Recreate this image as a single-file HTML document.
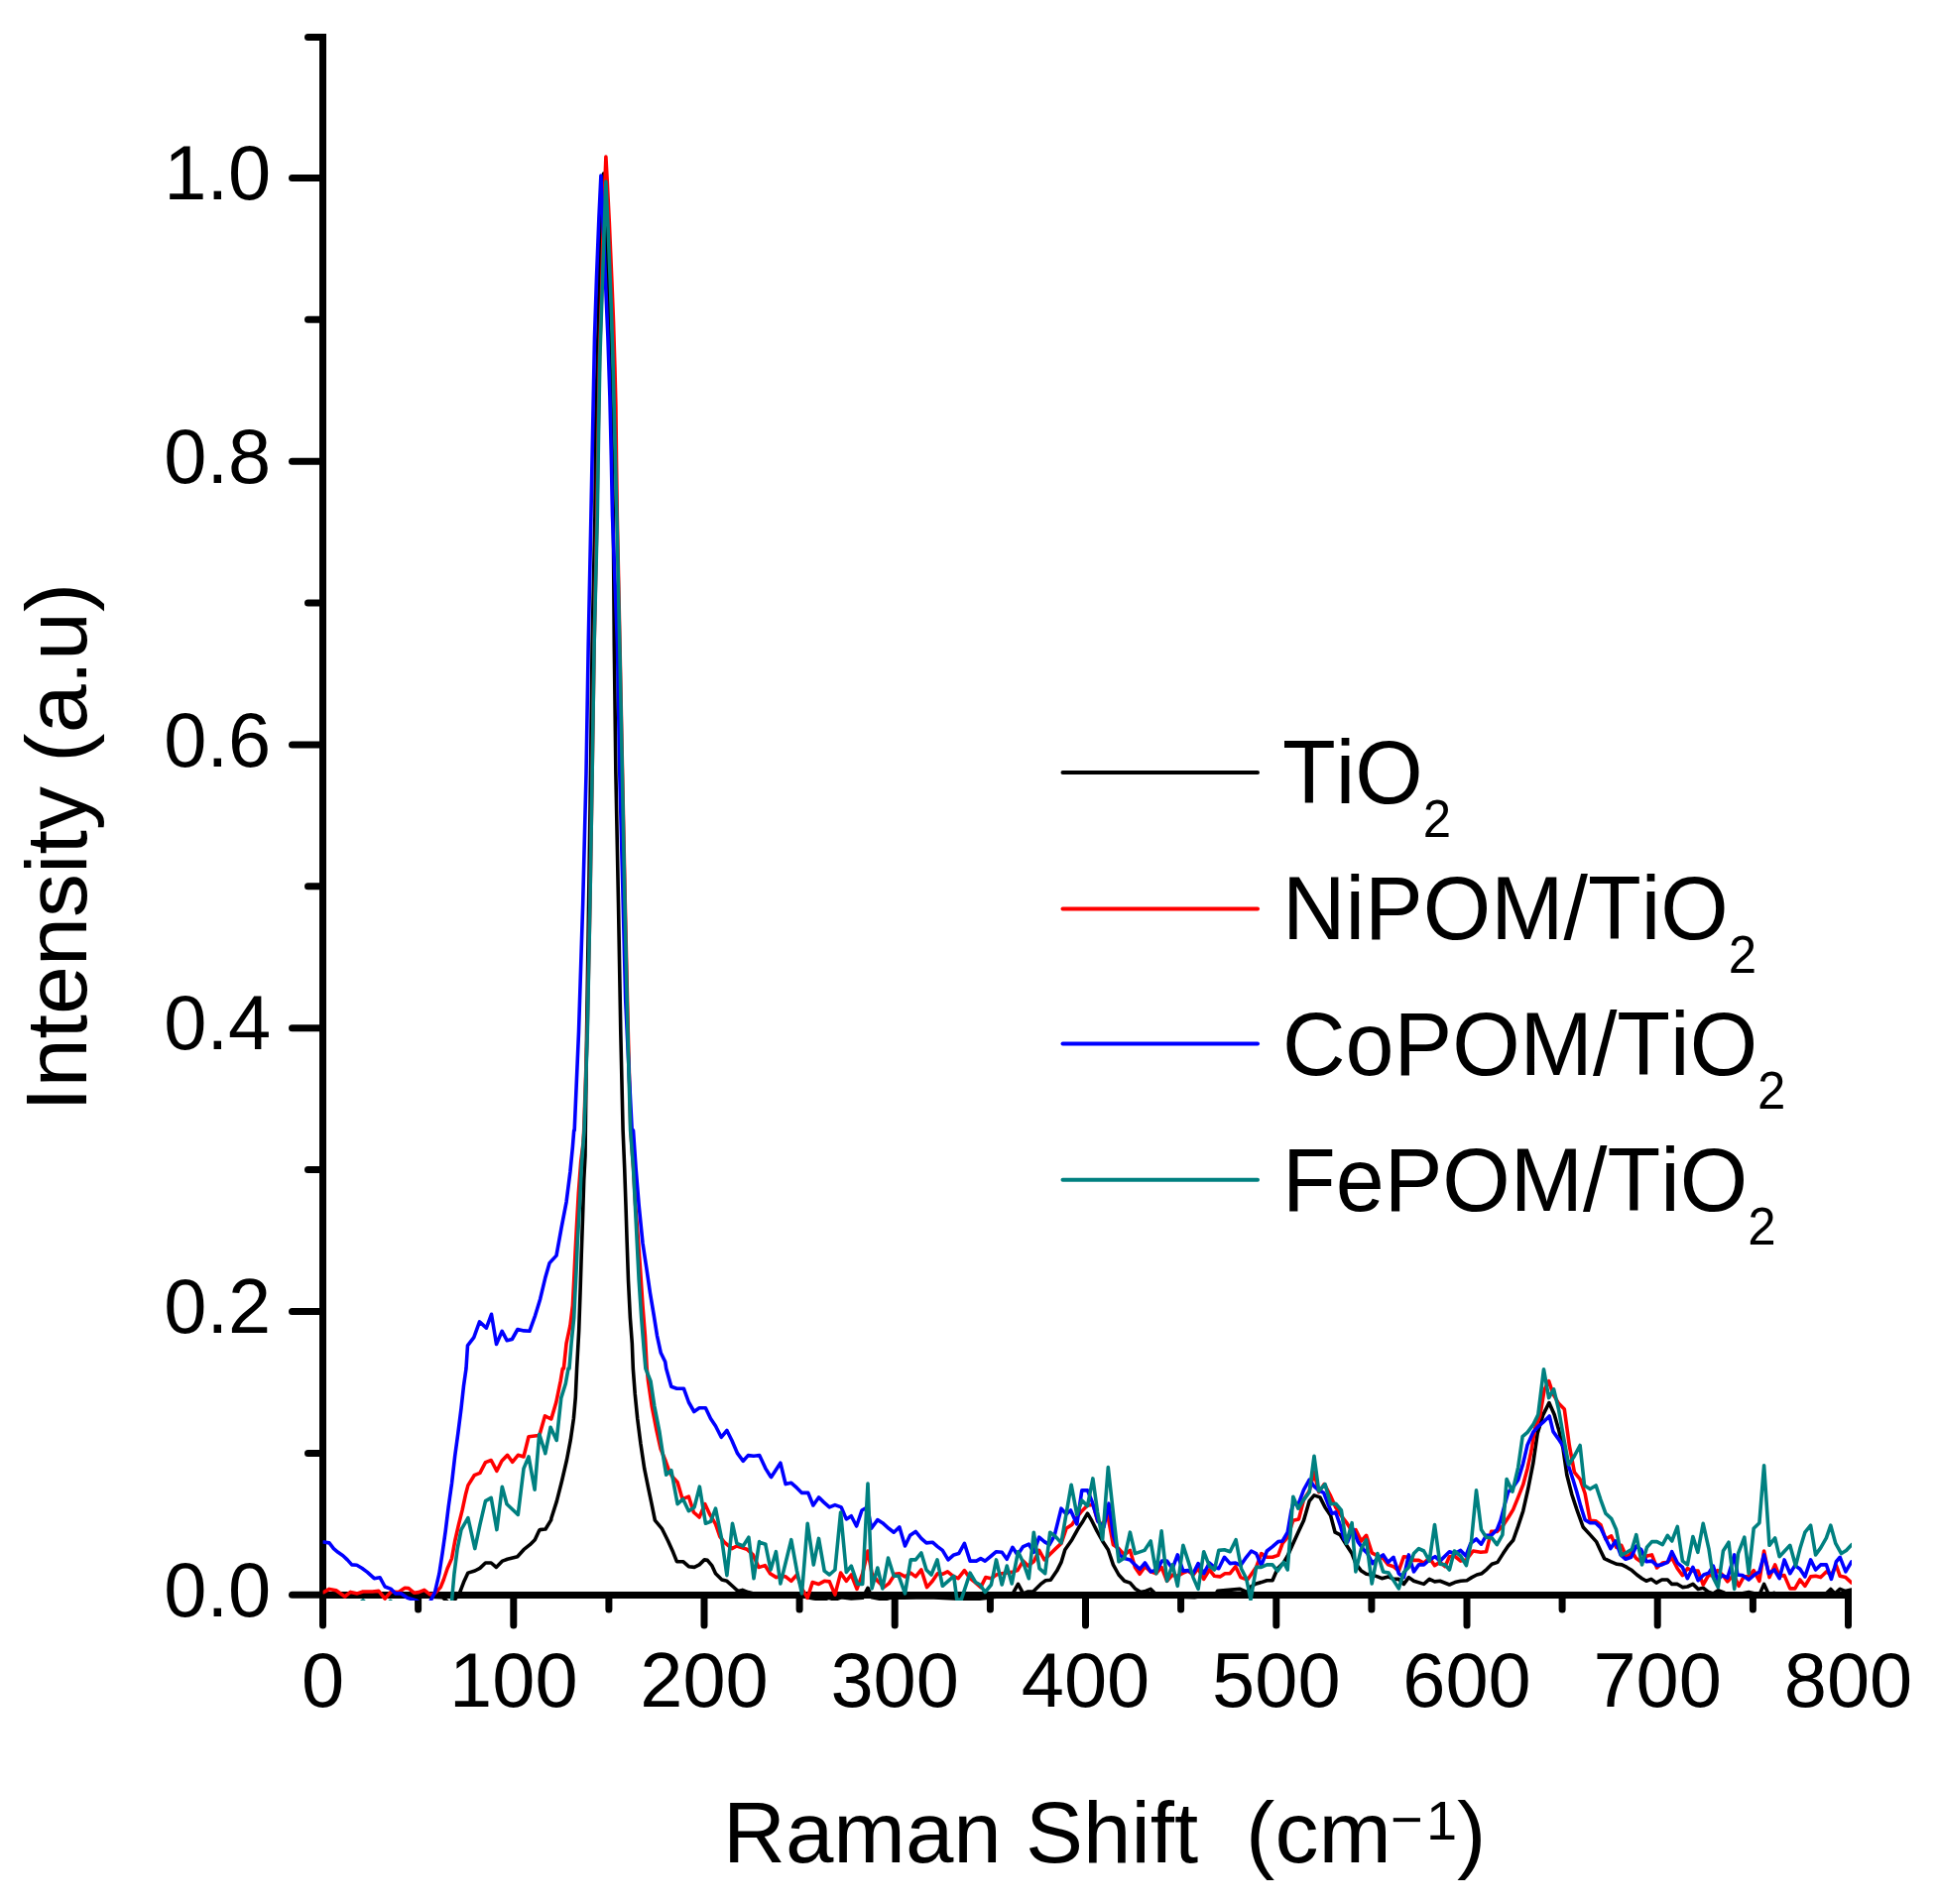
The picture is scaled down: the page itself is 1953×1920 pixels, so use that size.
<!DOCTYPE html>
<html lang="en"><head><meta charset="utf-8"><title>Raman spectra</title>
<style>html,body{margin:0;padding:0;background:#fff}body{width:1953px;height:1920px;overflow:hidden}svg{display:block}text{font-family:"Liberation Sans",Arial,sans-serif;fill:#000;font-kerning:none;font-variant-ligatures:none}</style></head><body>
<svg width="1953" height="1920" viewBox="0 0 1953 1920">
<rect width="1953" height="1920" fill="#fff"/>
<defs><clipPath id="plot"><rect x="325.6" y="34" width="1541.4" height="1580"/></clipPath></defs>
<g stroke="#000" stroke-width="7" fill="none">
<path d="M325.5,34 V1612" stroke-linecap="butt"/>
<path d="M322,1608.5 H1867" stroke-linecap="butt"/>
</g>
<g stroke="#000" stroke-width="7" stroke-linecap="round" fill="none">
<path d="M294.5,1608.3 H322"/>
<path d="M310.5,1465.4 H322"/>
<path d="M294.5,1322.5 H322"/>
<path d="M310.5,1179.6 H322"/>
<path d="M294.5,1036.7 H322"/>
<path d="M310.5,893.8 H322"/>
<path d="M294.5,751.0 H322"/>
<path d="M310.5,608.1 H322"/>
<path d="M294.5,465.2 H322"/>
<path d="M310.5,322.3 H322"/>
<path d="M294.5,179.4 H322"/>
<path d="M310.5,37.5 H322"/>
<path d="M325.5,1611 V1639"/>
<path d="M421.6,1611 V1623"/>
<path d="M517.8,1611 V1639"/>
<path d="M613.9,1611 V1623"/>
<path d="M710.0,1611 V1639"/>
<path d="M806.1,1611 V1623"/>
<path d="M902.2,1611 V1639"/>
<path d="M998.4,1611 V1623"/>
<path d="M1094.5,1611 V1639"/>
<path d="M1190.6,1611 V1623"/>
<path d="M1286.8,1611 V1639"/>
<path d="M1382.9,1611 V1623"/>
<path d="M1479.0,1611 V1639"/>
<path d="M1575.1,1611 V1623"/>
<path d="M1671.2,1611 V1639"/>
<path d="M1767.4,1611 V1623"/>
<path d="M1863.5,1611 V1639"/>
</g>
<g clip-path="url(#plot)" fill="none" stroke-width="3.6" stroke-linejoin="round" stroke-linecap="round">
<polyline stroke="#000000" points="326.3,1608.7 395.6,1608.7 446.0,1610.7 453.6,1617.0 458.7,1613.1 463.7,1605.6 467.5,1595.6 471.9,1586.1 478.8,1584.0 483.9,1581.4 489.5,1576.0 495.2,1576.0 500.3,1580.4 506.6,1574.1 511.6,1572.3 521.7,1569.7 528.0,1562.7 534.3,1557.7 539.3,1552.7 543.7,1543.3 544.4,1542.6 549.5,1542.0 550.0,1542.0 555.7,1532.6 555.8,1531.3 561.4,1513.6 566.5,1493.5 571.5,1472.0 575.3,1451.9 578.4,1430.5 580.3,1409.0 581.6,1380.0 583.7,1341.6 585.0,1303.9 586.2,1266.1 587.5,1228.2 588.7,1190.4 590.0,1165.2 590.3,1139.8 591.6,1040.8 593.6,910.6 595.5,780.4 597.1,650.2 599.9,520.2 600.9,419.7 602.9,339.7 604.3,279.8 606.9,209.8 608.5,175.0 610.3,219.8 612.3,279.8 614.3,339.7 615.9,399.7 617.3,459.5 618.3,520.2 619.3,650.2 620.9,780.4 623.5,910.6 625.8,1040.8 628.1,1139.8 629.7,1177.8 631.0,1215.6 632.2,1253.5 633.5,1291.2 635.4,1329.1 637.3,1354.3 638.3,1380.0 640.2,1405.2 642.7,1430.5 645.9,1455.6 649.7,1480.9 653.5,1499.7 657.2,1517.4 660.4,1533.2 667.3,1541.3 673.6,1554.0 678.7,1565.3 682.4,1574.7 688.7,1574.7 694.4,1579.7 700.1,1580.4 705.1,1577.9 710.2,1572.9 713.3,1573.4 717.7,1578.6 721.5,1586.7 727.8,1593.0 732.9,1594.3 739.2,1600.0 744.2,1604.6 748.6,1603.4 754.3,1605.6 761.8,1607.6 771.9,1608.1 775.1,1606.9 791.5,1608.4 810.4,1610.0 820.5,1612.0 830.6,1613.1 835.6,1611.3 841.9,1613.1 848.2,1610.7 858.3,1612.0 869.7,1611.3 875.0,1601.3 879.1,1610.7 891.1,1613.1 897.4,1611.3 911.3,1611.3 936.5,1610.7 961.7,1612.0 980.6,1613.1 1000.1,1610.7 1010.2,1609.4 1015.2,1606.9 1020.2,1608.7 1026.5,1597.4 1031.6,1606.9 1036.6,1605.0 1041.7,1605.0 1049.3,1597.4 1054.3,1593.7 1059.3,1593.3 1065.6,1584.1 1070.0,1575.4 1073.8,1562.7 1080.8,1552.7 1087.1,1541.3 1092.1,1533.7 1096.5,1526.2 1100.9,1533.7 1106.0,1543.9 1111.6,1554.0 1117.3,1562.7 1122.4,1577.9 1128.0,1588.0 1133.7,1594.3 1139.4,1596.1 1144.4,1601.9 1150.1,1605.6 1155.1,1604.4 1160.2,1602.4 1165.8,1608.1 1179.1,1610.0 1204.3,1610.7 1216.9,1608.7 1224.5,1609.4 1227.6,1604.4 1238.9,1603.4 1250.3,1602.4 1257.8,1605.6 1261.0,1600.0 1266.6,1596.9 1271.7,1595.6 1277.4,1593.7 1283.0,1593.7 1288.1,1581.7 1294.4,1575.4 1298.2,1569.0 1303.8,1556.4 1308.9,1545.2 1314.5,1533.2 1320.2,1513.6 1325.0,1507.9 1330.9,1509.9 1336.0,1519.9 1341.6,1528.2 1346.1,1545.2 1351.1,1547.6 1357.4,1557.7 1363.1,1566.6 1366.9,1576.6 1372.5,1584.1 1377.6,1587.3 1383.2,1588.0 1388.9,1589.9 1393.3,1591.7 1399.6,1589.9 1405.0,1592.4 1410.3,1592.4 1415.4,1597.4 1420.4,1590.6 1425.5,1594.3 1435.6,1597.4 1441.2,1592.4 1446.5,1594.9 1451.9,1594.3 1461.4,1598.0 1467.0,1595.6 1472.7,1594.3 1479.0,1593.7 1484.0,1590.6 1489.1,1588.0 1494.1,1586.7 1499.2,1582.3 1504.2,1577.3 1509.9,1575.4 1515.5,1566.6 1520.6,1559.0 1525.6,1553.3 1530.7,1538.9 1535.7,1523.7 1540.8,1501.0 1545.8,1475.7 1550.2,1445.6 1555.9,1426.6 1561.9,1414.6 1567.2,1426.6 1571.6,1441.7 1576.0,1460.7 1579.8,1487.2 1584.9,1507.3 1589.9,1522.4 1596.2,1540.0 1603.2,1547.6 1609.5,1554.6 1613.9,1564.0 1617.6,1571.6 1623.9,1574.7 1630.3,1577.3 1635.3,1577.9 1640.3,1580.4 1645.4,1583.6 1650.4,1588.0 1655.5,1591.7 1659.9,1594.3 1664.9,1592.4 1670.0,1596.1 1675.6,1593.0 1681.3,1593.0 1685.7,1597.4 1691.3,1597.4 1696.4,1600.6 1701.4,1600.0 1706.9,1597.4 1712.1,1602.4 1717.2,1601.3 1722.9,1605.6 1727.3,1606.9 1732.3,1603.7 1737.4,1605.6 1741.8,1608.1 1755.6,1606.9 1763.2,1605.6 1773.9,1608.1 1778.6,1597.4 1783.4,1608.1 1789.0,1606.3 1794.7,1608.7 1799.1,1606.9 1806.1,1608.7 1840.1,1608.1 1845.8,1602.4 1850.2,1606.9 1855.2,1602.4 1860.2,1604.4 1866.9,1603.1 1869.1,1603.1"/>
<polyline stroke="#ff0000" points="326.3,1605.6 332.0,1602.4 338.9,1603.7 347.7,1610.0 353.4,1605.4 360.3,1606.9 366.0,1605.0 375.5,1605.0 381.8,1604.4 388.1,1612.0 394.4,1605.0 401.9,1605.6 408.2,1601.3 412.0,1601.6 417.7,1606.3 422.1,1605.6 427.8,1603.4 433.5,1607.9 438.5,1606.9 444.2,1600.6 447.3,1593.0 451.1,1581.7 455.5,1571.6 458.7,1554.0 462.4,1537.6 466.2,1522.4 469.4,1507.3 471.9,1497.9 478.2,1487.7 483.9,1485.3 489.5,1474.6 495.2,1472.5 500.9,1483.3 505.9,1473.3 511.6,1467.3 516.6,1474.3 522.3,1467.3 528.0,1468.9 533.0,1448.7 543.1,1447.5 543.8,1447.5 549.4,1427.9 549.5,1427.9 555.7,1431.0 555.8,1431.0 560.8,1414.0 565.2,1392.6 567.3,1380.0 568.4,1380.0 571.1,1354.3 574.9,1336.6 577.4,1316.5 578.7,1291.2 579.9,1266.1 581.2,1240.8 583.3,1203.1 585.7,1171.5 588.0,1152.7 588.7,1139.8 592.1,1040.8 594.9,910.6 597.1,780.4 599.1,650.2 601.9,520.2 603.1,439.5 604.5,359.7 606.5,299.8 607.9,239.8 609.7,190.0 610.9,158.0 612.3,184.0 614.3,223.8 616.9,283.8 618.5,323.7 619.9,369.7 620.9,409.7 621.5,463.5 622.3,520.2 625.0,650.2 627.6,780.4 630.3,910.6 633.3,1040.8 635.9,1139.8 638.6,1177.8 640.7,1215.6 643.2,1247.2 645.5,1278.6 648.0,1316.5 650.5,1348.0 652.2,1380.0 653.5,1392.6 657.2,1417.8 661.6,1440.5 666.0,1460.7 671.1,1473.3 674.2,1482.2 677.4,1488.5 683.1,1494.7 688.1,1511.7 694.4,1509.2 699.4,1525.0 705.1,1530.0 710.8,1516.7 715.8,1527.4 721.5,1536.9 725.9,1549.6 730.3,1555.2 737.9,1561.6 742.9,1559.0 753.0,1562.2 759.3,1567.9 765.0,1580.4 765.6,1580.4 771.3,1578.6 771.3,1578.6 775.7,1585.4 776.4,1586.7 782.7,1590.6 786.9,1589.3 792.1,1589.9 797.8,1594.3 803.5,1588.0 808.5,1601.9 814.2,1611.3 819.2,1595.6 825.5,1597.4 831.2,1594.3 836.3,1594.9 841.9,1608.1 847.6,1586.1 853.3,1594.3 858.3,1588.0 864.0,1602.4 869.7,1586.7 875.0,1564.0 879.1,1586.7 884.8,1594.3 891.1,1600.6 896.1,1596.9 902.4,1587.3 906.9,1586.7 912.5,1589.9 918.2,1586.1 923.2,1589.9 928.9,1583.0 934.6,1600.6 940.2,1594.3 945.3,1586.7 950.3,1587.3 955.4,1584.9 961.0,1589.3 966.1,1591.7 972.4,1583.6 978.1,1591.7 983.7,1596.1 988.8,1600.6 993.8,1590.6 999.4,1591.7 1004.5,1588.0 1010.2,1586.7 1020.2,1585.4 1025.9,1583.6 1031.6,1574.1 1036.6,1579.1 1042.3,1574.7 1047.7,1563.4 1053.0,1572.9 1058.7,1567.2 1064.4,1561.6 1070.0,1556.4 1075.1,1541.3 1080.8,1537.6 1085.8,1530.0 1090.8,1523.7 1096.5,1518.0 1102.2,1517.4 1106.6,1533.7 1111.6,1537.6 1116.7,1527.4 1122.4,1557.7 1128.0,1561.6 1133.7,1567.9 1139.4,1563.4 1144.4,1580.4 1149.1,1587.3 1154.5,1579.7 1160.2,1584.9 1165.8,1586.7 1171.1,1580.4 1176.6,1594.3 1182.2,1588.0 1187.3,1589.3 1192.9,1586.1 1198.0,1584.1 1203.0,1588.0 1208.1,1581.7 1213.7,1592.4 1219.4,1583.0 1224.5,1589.3 1230.1,1589.9 1235.1,1586.7 1240.2,1586.7 1245.8,1579.7 1250.9,1590.6 1257.8,1593.0 1266.6,1580.4 1271.7,1566.6 1277.4,1570.3 1283.0,1570.3 1288.7,1568.4 1293.1,1556.4 1298.2,1550.2 1303.8,1533.2 1309.5,1531.9 1314.5,1512.3 1320.2,1503.6 1325.0,1484.6 1329.7,1504.7 1335.3,1496.6 1341.0,1507.3 1346.7,1519.9 1352.4,1528.7 1357.4,1535.0 1363.1,1543.9 1366.9,1542.6 1372.5,1554.0 1377.6,1548.3 1383.2,1565.9 1388.9,1569.0 1394.6,1571.6 1399.6,1577.9 1405.0,1579.7 1410.3,1584.1 1415.4,1569.7 1420.4,1570.3 1425.5,1573.4 1430.5,1573.4 1435.6,1576.0 1441.2,1571.0 1446.5,1578.6 1451.9,1575.4 1457.0,1579.7 1461.4,1569.7 1466.4,1569.0 1472.7,1574.1 1478.4,1572.9 1485.3,1564.0 1492.9,1565.3 1498.5,1564.7 1503.6,1544.4 1509.3,1544.4 1515.5,1538.2 1520.6,1530.6 1525.6,1522.4 1530.7,1509.9 1535.7,1497.2 1540.1,1480.9 1543.9,1463.2 1547.7,1440.5 1552.7,1427.9 1557.1,1401.5 1561.6,1392.6 1566.0,1405.9 1571.6,1415.3 1577.3,1421.0 1582.4,1458.2 1587.4,1484.6 1593.1,1491.6 1598.1,1506.0 1603.2,1533.2 1608.8,1533.7 1613.9,1537.6 1618.9,1552.0 1624.6,1548.9 1629.6,1560.3 1634.7,1558.3 1640.3,1571.0 1645.4,1564.7 1649.8,1571.6 1655.5,1575.4 1660.5,1569.0 1665.5,1567.9 1670.6,1581.0 1676.3,1576.0 1681.3,1575.4 1685.7,1571.0 1691.3,1581.7 1696.4,1588.6 1701.4,1581.7 1706.9,1584.1 1712.1,1584.1 1717.2,1598.0 1722.9,1588.0 1727.3,1589.3 1731.7,1583.6 1736.7,1588.0 1741.8,1594.9 1748.1,1588.0 1753.1,1599.3 1758.2,1589.9 1763.2,1589.9 1768.2,1583.6 1773.9,1594.3 1778.6,1564.0 1784.0,1590.6 1789.7,1577.9 1794.1,1589.3 1799.1,1588.6 1804.8,1601.9 1809.8,1601.9 1814.9,1593.0 1819.9,1599.3 1825.6,1589.9 1830.6,1589.3 1835.7,1590.6 1841.4,1584.9 1846.4,1588.0 1851.4,1578.6 1855.2,1589.3 1860.9,1590.6 1866.9,1596.1 1869.1,1596.9"/>
<polyline stroke="#0000ff" points="326.3,1555.0 332.0,1555.9 336.4,1561.6 340.8,1565.3 345.8,1568.7 350.2,1572.9 354.7,1577.9 359.7,1578.3 364.8,1581.3 370.4,1585.4 377.3,1591.7 383.0,1590.7 388.1,1600.0 394.4,1602.4 398.8,1606.9 404.4,1606.9 410.8,1611.3 419.6,1613.9 424.6,1617.0 429.7,1619.4 434.1,1614.4 438.5,1605.6 442.9,1586.7 446.0,1566.6 449.2,1543.9 452.3,1518.6 455.5,1496.0 458.7,1468.2 461.8,1445.6 465.0,1420.3 467.5,1397.6 470.0,1380.0 471.5,1356.8 477.8,1348.6 483.5,1332.9 490.4,1339.2 495.5,1325.3 500.5,1355.5 506.2,1342.3 511.2,1351.8 516.3,1350.5 521.9,1340.5 528.2,1341.9 533.9,1342.3 539.6,1326.6 544.6,1310.2 549.7,1288.8 554.1,1273.6 561.0,1266.1 566.0,1238.4 571.1,1211.8 574.9,1181.7 577.4,1156.4 578.7,1139.9 579.2,1139.8 583.5,1040.8 587.7,910.6 591.0,780.4 593.2,650.2 595.9,520.2 597.9,419.7 599.5,339.7 601.5,279.8 603.9,219.8 605.9,177.0 607.9,219.8 609.9,269.8 612.9,339.7 614.9,399.7 616.3,459.5 617.5,520.2 622.5,650.2 624.8,780.4 627.4,878.0 630.7,1008.3 634.6,1089.7 637.2,1139.8 638.5,1139.9 641.1,1177.8 644.2,1215.6 648.0,1253.5 651.8,1278.6 655.5,1303.9 659.3,1326.6 662.5,1346.8 666.3,1364.3 670.7,1373.2 671.7,1380.0 676.8,1398.3 682.4,1400.2 689.4,1400.2 694.4,1414.0 699.8,1423.5 705.1,1419.8 711.4,1419.8 716.5,1430.5 721.5,1438.0 727.2,1449.3 732.9,1442.5 737.9,1452.5 743.6,1465.7 749.3,1473.3 754.3,1467.6 760.0,1468.2 765.6,1467.6 765.7,1467.6 771.3,1479.6 771.9,1480.9 777.0,1489.0 777.6,1489.6 786.9,1475.2 792.1,1496.6 797.8,1495.3 803.5,1500.4 808.5,1505.4 814.8,1505.4 819.9,1518.0 825.5,1509.9 830.6,1514.9 836.3,1519.9 841.9,1517.6 848.2,1519.9 853.3,1531.9 858.3,1528.7 863.6,1539.0 869.0,1523.0 874.7,1519.9 878.5,1541.3 884.8,1532.6 889.8,1535.7 896.1,1541.3 901.2,1545.2 906.9,1539.9 912.5,1559.0 917.6,1548.3 923.2,1544.4 928.9,1551.4 934.0,1555.9 940.2,1555.2 945.3,1559.6 950.3,1563.4 956.0,1572.9 961.7,1567.9 966.7,1566.6 972.4,1556.4 978.1,1574.1 984.4,1574.1 988.8,1571.6 993.2,1574.1 999.4,1569.0 1004.5,1564.7 1010.2,1565.3 1015.2,1572.3 1020.9,1560.3 1025.9,1567.9 1031.6,1559.6 1037.3,1557.2 1042.3,1565.3 1047.7,1550.2 1053.0,1554.6 1058.1,1557.7 1063.1,1548.9 1070.0,1521.2 1075.1,1526.9 1079.5,1523.0 1085.8,1536.9 1090.8,1502.9 1096.5,1502.9 1100.9,1513.6 1107.2,1534.4 1112.9,1540.0 1118.0,1516.2 1122.4,1547.6 1128.7,1567.9 1133.7,1571.6 1139.4,1572.9 1144.4,1577.9 1149.1,1582.3 1154.5,1576.0 1160.2,1584.9 1166.5,1583.0 1171.5,1574.1 1176.6,1574.1 1182.2,1581.7 1187.3,1567.9 1192.9,1584.1 1198.0,1583.6 1203.0,1586.7 1208.1,1576.6 1213.7,1586.7 1219.4,1576.0 1224.5,1580.4 1228.8,1581.7 1234.5,1570.3 1240.2,1576.6 1245.8,1576.0 1250.9,1578.6 1256.6,1570.3 1261.6,1564.0 1266.6,1566.6 1271.7,1578.6 1277.4,1564.0 1283.0,1559.6 1288.7,1554.6 1293.1,1554.0 1298.2,1545.2 1301.9,1523.7 1303.8,1516.2 1308.9,1517.4 1314.5,1502.3 1320.2,1492.2 1325.3,1499.2 1329.7,1502.9 1334.7,1505.4 1339.8,1518.6 1342.9,1526.2 1346.7,1525.0 1351.1,1537.6 1355.5,1552.7 1358.6,1555.2 1363.7,1541.3 1369.4,1555.2 1375.0,1562.7 1378.8,1566.6 1383.9,1576.6 1388.9,1571.6 1394.6,1567.9 1399.6,1575.4 1405.0,1570.3 1410.3,1586.7 1415.4,1590.6 1420.4,1567.9 1425.5,1584.9 1430.5,1577.9 1435.6,1577.9 1441.2,1572.9 1446.9,1569.7 1451.9,1574.1 1461.4,1564.7 1467.0,1566.6 1472.7,1563.4 1478.0,1569.0 1482.8,1556.4 1488.5,1552.0 1493.5,1557.2 1498.5,1548.3 1503.6,1548.3 1509.3,1542.6 1513.0,1533.2 1516.8,1518.6 1520.6,1504.7 1525.6,1499.7 1530.7,1492.2 1535.7,1475.7 1540.1,1456.9 1545.8,1444.3 1550.8,1438.6 1555.9,1434.2 1562.2,1427.9 1566.0,1443.6 1571.0,1450.6 1576.0,1458.2 1581.1,1477.0 1586.1,1492.2 1589.9,1504.7 1593.7,1518.6 1598.1,1532.6 1603.2,1535.7 1608.8,1535.7 1613.9,1540.7 1618.9,1551.4 1623.9,1561.6 1629.0,1554.0 1634.0,1567.9 1639.1,1572.3 1644.7,1570.3 1649.8,1559.0 1654.8,1562.7 1659.9,1574.7 1665.5,1574.1 1670.6,1578.6 1675.6,1577.9 1681.3,1575.4 1685.7,1564.7 1691.3,1576.0 1696.4,1580.4 1701.4,1591.7 1706.9,1580.4 1712.1,1593.7 1717.8,1588.0 1722.9,1586.1 1727.3,1579.1 1731.7,1593.0 1736.7,1588.6 1741.8,1591.1 1745.5,1579.1 1748.7,1567.9 1751.9,1588.0 1756.9,1588.6 1763.2,1593.0 1768.2,1588.6 1773.9,1584.9 1778.6,1567.9 1783.4,1586.7 1789.0,1583.0 1794.1,1591.7 1799.1,1572.9 1804.8,1586.7 1809.8,1578.6 1814.9,1582.3 1819.9,1589.9 1825.6,1572.9 1830.6,1583.0 1835.7,1577.9 1841.4,1577.9 1846.4,1592.4 1851.4,1574.7 1855.2,1570.3 1860.9,1584.9 1866.9,1574.7 1869.1,1574.7"/>
<polyline stroke="#008080" points="326.3,1619.4 360.3,1618.3 366.0,1613.9 371.7,1618.9 388.1,1618.9 393.7,1614.4 399.4,1619.4 451.1,1627.0 455.5,1614.4 458.0,1586.7 461.2,1561.6 465.0,1542.6 471.9,1530.6 478.8,1561.6 483.9,1537.6 489.5,1513.6 495.2,1510.4 500.9,1542.6 506.3,1499.2 511.0,1516.7 522.3,1527.4 528.0,1480.9 533.0,1468.9 539.1,1502.3 543.7,1446.2 543.8,1446.2 549.7,1465.0 549.8,1465.7 555.1,1439.2 555.1,1439.2 561.2,1452.5 565.8,1409.6 570.3,1395.2 573.0,1380.0 574.0,1380.0 576.1,1354.3 578.7,1329.1 579.9,1303.9 581.2,1278.6 582.2,1253.5 583.7,1228.2 585.0,1203.1 586.2,1177.8 588.1,1152.7 589.0,1139.8 592.3,1040.8 594.9,910.6 597.1,780.4 599.1,650.2 602.3,520.2 603.5,439.5 604.9,359.7 606.9,299.8 608.9,239.8 610.9,183.0 613.5,239.8 615.9,299.8 617.9,359.7 619.9,439.5 621.9,520.2 624.8,650.2 627.4,780.4 630.0,910.6 632.9,1040.8 635.6,1139.8 638.5,1177.8 640.4,1215.6 642.3,1253.5 644.2,1291.2 646.7,1329.1 649.2,1360.6 650.9,1380.0 656.0,1392.6 659.8,1417.8 664.8,1443.0 668.6,1468.2 671.7,1487.2 676.8,1482.7 683.1,1516.7 688.7,1511.7 694.4,1523.7 700.1,1519.9 705.4,1499.2 711.4,1536.3 716.5,1534.4 721.5,1521.2 727.8,1552.7 732.9,1588.6 738.5,1536.3 742.9,1556.4 749.3,1559.0 754.9,1550.2 760.0,1591.7 765.6,1554.6 765.7,1555.2 771.9,1557.2 772.0,1558.3 777.0,1583.0 777.0,1583.0 782.4,1564.7 786.9,1596.9 797.8,1552.7 803.5,1584.1 808.5,1606.9 814.2,1536.3 820.3,1577.9 825.5,1551.4 831.2,1584.1 836.3,1588.0 841.9,1583.0 847.6,1525.0 853.3,1585.4 858.3,1579.1 864.6,1597.4 869.7,1597.4 875.0,1496.0 879.1,1601.9 884.8,1581.0 889.8,1601.9 895.5,1571.0 901.2,1589.3 906.2,1589.3 912.5,1606.9 918.2,1572.9 923.2,1572.9 928.9,1565.9 934.0,1583.0 939.0,1588.0 945.0,1572.9 950.3,1599.3 961.7,1589.3 964.8,1613.1 969.2,1613.1 978.1,1586.1 983.7,1595.6 988.1,1598.0 993.2,1605.6 999.4,1598.0 1004.5,1572.9 1010.2,1598.0 1015.2,1579.1 1020.2,1596.9 1026.5,1564.7 1031.6,1575.4 1037.3,1591.7 1042.3,1545.2 1048.0,1581.7 1053.7,1586.7 1058.7,1545.2 1064.4,1549.6 1070.0,1555.9 1080.1,1497.2 1085.8,1527.4 1090.8,1513.0 1096.5,1518.6 1101.9,1490.9 1106.6,1525.0 1111.6,1552.7 1117.3,1479.6 1123.0,1531.3 1128.0,1574.7 1133.7,1571.0 1139.4,1545.2 1144.4,1566.6 1153.9,1563.4 1160.2,1554.0 1165.8,1586.7 1171.1,1543.9 1176.6,1594.3 1182.2,1577.9 1187.3,1599.3 1192.9,1558.3 1198.0,1574.1 1203.0,1590.6 1208.1,1602.4 1213.7,1564.7 1219.4,1579.1 1224.5,1583.0 1228.8,1563.4 1234.5,1562.7 1240.2,1564.7 1246.1,1552.7 1251.5,1581.7 1256.6,1591.7 1261.0,1613.1 1266.6,1580.4 1271.7,1580.4 1277.4,1577.9 1283.0,1577.9 1288.1,1584.1 1294.4,1575.4 1298.2,1583.0 1303.8,1509.2 1308.9,1521.2 1314.5,1512.3 1320.2,1504.7 1325.0,1468.2 1329.7,1503.6 1336.0,1496.6 1341.6,1516.7 1346.7,1516.2 1352.4,1523.0 1357.4,1556.4 1363.1,1535.7 1366.9,1584.9 1372.5,1561.6 1377.6,1552.7 1383.2,1596.9 1388.9,1566.6 1394.6,1584.9 1400.2,1586.1 1410.3,1601.9 1415.4,1585.4 1420.4,1580.4 1425.5,1566.6 1430.5,1561.6 1435.6,1564.0 1441.2,1574.1 1446.5,1537.6 1451.9,1577.3 1457.0,1577.9 1461.4,1583.0 1466.4,1564.0 1472.7,1569.0 1478.4,1578.6 1483.4,1555.2 1488.5,1502.9 1493.5,1542.6 1498.5,1550.2 1504.2,1550.9 1509.3,1557.7 1514.9,1547.6 1519.1,1491.6 1525.0,1504.2 1530.7,1479.6 1535.1,1448.7 1540.1,1444.3 1545.8,1436.7 1550.8,1426.6 1556.5,1380.8 1561.6,1409.6 1566.6,1400.8 1571.6,1421.6 1576.7,1450.6 1581.7,1477.0 1587.4,1468.2 1593.1,1457.5 1597.5,1497.9 1603.2,1501.6 1609.1,1497.9 1613.9,1512.3 1618.9,1526.2 1624.6,1531.3 1629.6,1542.6 1634.7,1568.4 1640.3,1565.3 1645.4,1562.2 1649.8,1547.6 1655.5,1577.9 1660.5,1560.3 1665.5,1554.6 1670.6,1554.6 1676.3,1557.7 1681.3,1548.3 1685.7,1554.0 1691.3,1539.4 1696.4,1574.1 1701.4,1577.9 1706.9,1549.6 1711.8,1565.3 1717.2,1536.3 1722.9,1561.6 1727.3,1590.6 1732.3,1600.6 1737.4,1564.0 1743.0,1555.2 1748.7,1602.4 1752.5,1566.6 1758.8,1550.2 1763.2,1586.7 1768.2,1541.3 1773.9,1535.7 1778.6,1477.7 1784.0,1558.3 1789.7,1550.9 1794.1,1569.7 1804.8,1558.3 1810.5,1579.1 1814.9,1561.6 1819.9,1545.2 1825.6,1538.2 1830.6,1567.9 1835.7,1560.9 1841.4,1550.9 1845.8,1538.2 1850.8,1556.4 1856.5,1566.6 1861.5,1563.4 1866.9,1557.7 1869.1,1556.4"/>
</g>
<g font-size="77.6">
<text transform="translate(273.2,1629.8) scale(1,1.004)" text-anchor="end">0.0</text>
<text transform="translate(273.2,1344.0) scale(1,1.004)" text-anchor="end">0.2</text>
<text transform="translate(273.2,1058.2) scale(1,1.004)" text-anchor="end">0.4</text>
<text transform="translate(273.2,772.5) scale(1,1.004)" text-anchor="end">0.6</text>
<text transform="translate(273.2,486.7) scale(1,1.004)" text-anchor="end">0.8</text>
<text transform="translate(273.2,200.9) scale(1,1.004)" text-anchor="end">1.0</text>
<text transform="translate(325.5,1720.5) scale(1,1.004)" text-anchor="middle">0</text>
<text transform="translate(517.8,1720.5) scale(1,1.004)" text-anchor="middle">100</text>
<text transform="translate(710.0,1720.5) scale(1,1.004)" text-anchor="middle">200</text>
<text transform="translate(902.2,1720.5) scale(1,1.004)" text-anchor="middle">300</text>
<text transform="translate(1094.5,1720.5) scale(1,1.004)" text-anchor="middle">400</text>
<text transform="translate(1286.8,1720.5) scale(1,1.004)" text-anchor="middle">500</text>
<text transform="translate(1479.0,1720.5) scale(1,1.004)" text-anchor="middle">600</text>
<text transform="translate(1671.2,1720.5) scale(1,1.004)" text-anchor="middle">700</text>
<text transform="translate(1863.5,1720.5) scale(1,1.004)" text-anchor="middle">800</text>
</g>
<text y="1877.5" font-size="88" xml:space="preserve" style="white-space:pre"><tspan x="729" font-size="87.1">Raman </tspan><tspan x="1034" font-size="87">Shift  </tspan><tspan x="1256.1">(cm</tspan><tspan x="1402" y="1854" font-size="56">−</tspan><tspan x="1438" y="1855" font-size="56">1</tspan><tspan x="1469" y="1877.5">)</tspan></text>
<text transform="translate(87,1120.8) rotate(-90)" font-size="88">Intensity (a.u)</text>
<path d="M1071.5,779.0 H1268" stroke="#000000" stroke-width="4" stroke-linecap="round" fill="none"/>
<text transform="translate(1293,810.0) scale(1,1.04)" font-size="88">TiO<tspan font-size="51" dy="32.7">2</tspan></text>
<path d="M1071.5,916.4 H1268" stroke="#ff0000" stroke-width="4" stroke-linecap="round" fill="none"/>
<text transform="translate(1293,947.2) scale(1,1.04)" font-size="88">NiPOM/TiO<tspan font-size="51" dy="32.7">2</tspan></text>
<path d="M1071.5,1052.6 H1268" stroke="#0000ff" stroke-width="4" stroke-linecap="round" fill="none"/>
<text transform="translate(1293,1083.6) scale(1,1.04)" font-size="88">CoPOM/TiO<tspan font-size="51" dy="32.7">2</tspan></text>
<path d="M1071.5,1189.7 H1268" stroke="#008080" stroke-width="4" stroke-linecap="round" fill="none"/>
<text transform="translate(1293,1220.6) scale(1,1.04)" font-size="88">FePOM/TiO<tspan font-size="51" dy="32.7">2</tspan></text>
</svg></body></html>
